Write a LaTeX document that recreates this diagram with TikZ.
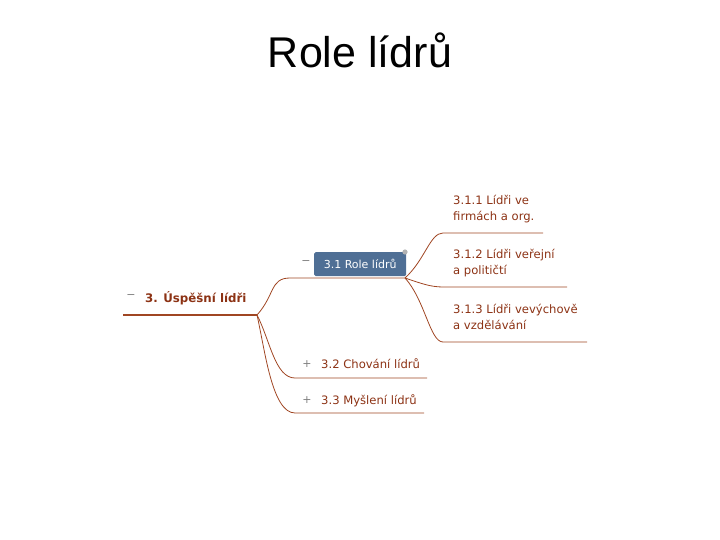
\documentclass[tikz,border=0pt]{standalone}
\usepackage{fontspec}
\setmainfont{Liberation Sans}
\newfontfamily\mm{DejaVu Sans}
\definecolor{tx}{RGB}{140,50,20}
\definecolor{ln}{RGB}{160,70,35}
\begin{document}
\begin{tikzpicture}[x=1pt,y=-1pt,
 br/.style={draw=ln, line width=0.8pt},
 t/.style={font=\mm\fontsize{11.6}{15.5}\selectfont, text=tx, anchor=west, inner sep=0, align=left},
 sg/.style={font=\mm\fontsize{11}{11}\selectfont, text=gray, inner sep=0}]
\useasboundingbox (0,0) rectangle (720,540);
\node[font=\fontsize{43}{43}\selectfont] (title) at (360,50) {Role lídrů};
% root
\node[t, font=\mm\bfseries\fontsize{11.8}{11.8}\selectfont] (root) at (145,298) {3. Úspěšní lídři};
\node[sg] (rm) at (131,297) {−};
\draw[br, line width=1.4pt] (123,315) coordinate (r0) -- (257,315) coordinate (r1);
% 3.1
\node[inner sep=0, minimum width=92, minimum height=24, anchor=north west, rounded corners=1.5, fill={rgb,255:red,79;green,111;blue,149}, text=white, font=\mm\fontsize{11}{11}\selectfont] (n31) at (314,252) {3.1 Role lídrů};
\node[sg] (m31) at (306,263) {−};
\fill[gray!60] (405,252) circle (2.6);
\coordinate (a31) at (290,278);
\draw[br] (r1) .. controls (275,295) and (270,278) .. (a31) -- (405,278) coordinate (b31);
% 3.1.x
\node[t] (n311) at (453,209) {3.1.1 Lídři ve\\firmách a org.};
\node[t] (n312) at (453,263) {3.1.2 Lídři veřejní\\a političtí};
\node[t] (n313) at (453,317) {3.1.3 Lídři vevýchově\\a vzdělávání};
\draw[br] (b31) .. controls (425,260) and (430,233) .. (443,233) -- (543,233);
\draw[br] (b31) .. controls (420,283) and (430,287) .. (443,287) -- (567,287);
\draw[br] (b31) .. controls (425,300) and (430,342) .. (443,342) -- (587,342);
% 3.2, 3.3
\node[t] (n32) at (321,364) {3.2 Chování lídrů};
\node[sg] (p32) at (307,364) {+};
\node[t] (n33) at (321,401) {3.3 Myšlení lídrů};
\node[sg] (p33) at (307,400) {+};
\draw[br] (r1) .. controls (270,340) and (275,378) .. (295,378) -- (427,378);
\draw[br] (r1) .. controls (265,350) and (272,413) .. (295,413) -- (424,413);
\end{tikzpicture}
\end{document}
